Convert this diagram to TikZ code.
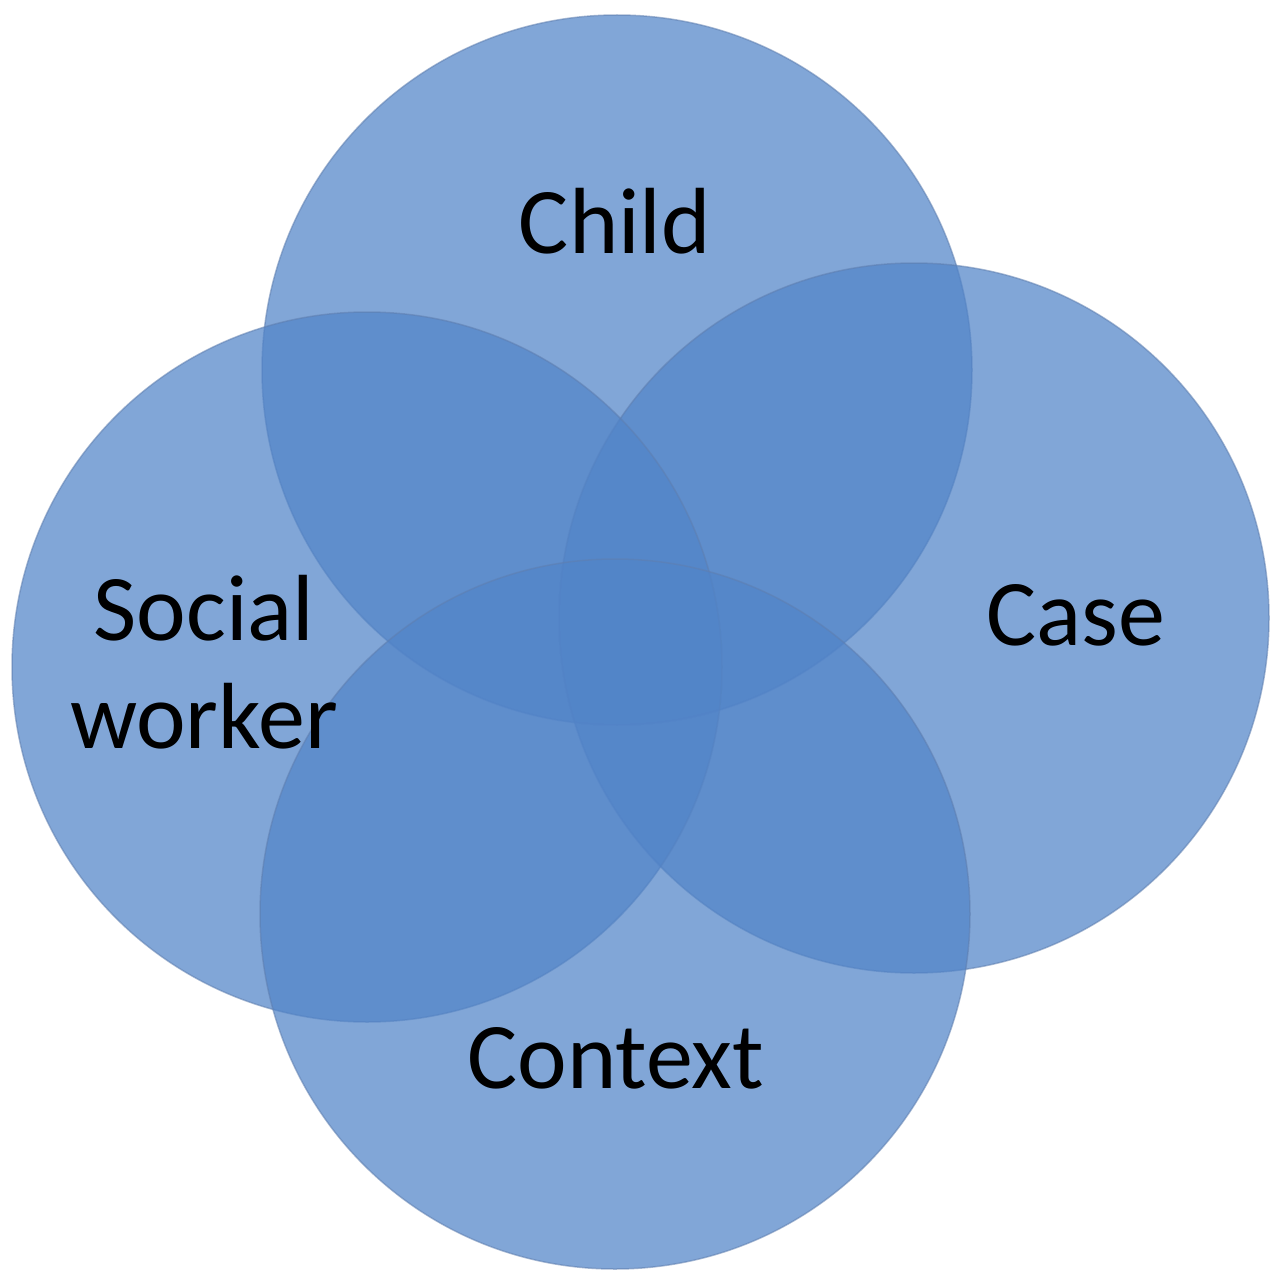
\documentclass[tikz,border=0pt]{standalone}
\usepackage{fontspec}
\setmainfont{Carlito}
\definecolor{vennblue}{HTML}{5184C8}
\definecolor{vennedge}{HTML}{5F7FAF}
\begin{document}
\begin{tikzpicture}[x=1pt,y=-1pt,
  venn/.style={circle,minimum size=710pt,inner sep=0pt,fill=vennblue,fill opacity=0.72,
    draw=vennedge,draw opacity=0.55,line width=1.5pt},
  lbl/.style={font=\fontsize{94}{108}\selectfont,text=black,align=center,inner sep=0pt}]
\useasboundingbox (0,0) rectangle (1280,1271);
\node[venn] (child) at (617,370) {};
\node[venn] (case) at (914,618) {};
\node[venn] (social) at (367,667) {};
\node[venn] (context) at (615,914) {};
\node[lbl,anchor=base] (tchild) at (615,253) {Child};
\node[lbl,anchor=base] (tcase) at (1076,645) {Case};
\node[lbl,anchor=base] (tsocial) at (204,748) {Social\\worker};
\node[lbl,anchor=base] (tcontext) at (616,1088) {Context};
\end{tikzpicture}
\end{document}
